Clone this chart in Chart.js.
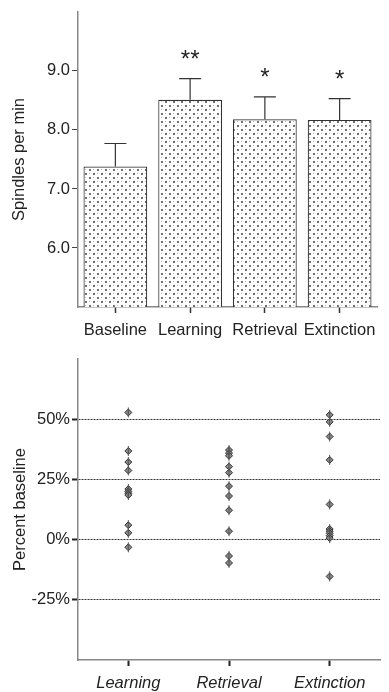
<!DOCTYPE html>
<html>
<head>
<meta charset="utf-8">
<script src="https://cdn.jsdelivr.net/npm/chart.js@4.4.1/dist/chart.umd.min.js"></script>
<style>
  body { margin: 0; background: #fff; }
  #top { position: absolute; left: 0; top: 0; }
  #bottom { position: absolute; left: 0; top: 345px; }
</style>
</head>
<body>
<canvas id="top" width="389" height="345"></canvas>
<canvas id="bottom" width="389" height="347"></canvas>
<script>
// top panel: mean spindle rate per session
const categories = ['Baseline', 'Learning', 'Retrieval', 'Extinction'];
const means = [7.38, 8.51, 8.18, 8.17];
const sem = [0.39, 0.36, 0.38, 0.36];
const stars = ['', '**', '*', '*'];
const topTicks = [6, 7, 8, 9];

// bottom panel: individual change from baseline (%)
const sessions = ['Learning', 'Retrieval', 'Extinction'];
const learningPct = [52.8, 36.8, 32.2, 28.7, 21.0, 20.0, 19.2, 18.5, 6.0, 2.8, -3.2];
const retrievalPct = [37.2, 35.9, 34.8, 30.3, 27.8, 22.2, 18.1, 12.2, 3.5, -6.8, -9.7];
const extinctionPct = [51.8, 48.9, 42.8, 33.1, 14.6, 4.4, 3.5, 2.6, 1.6, 0.6, -15.3];
const pctTicks = [-25, 0, 25, 50];

const FONT = 'Liberation Sans';
Chart.defaults.font.family = FONT;
Chart.defaults.font.size = 16.5;
Chart.defaults.color = '#222';

// stipple fill for the bars
function dotPattern() {
  const c = document.createElement('canvas');
  c.width = 8; c.height = 8;
  const g = c.getContext('2d');
  g.fillStyle = '#fff';
  g.fillRect(0, 0, 8, 8);
  g.fillStyle = '#707070';
  g.fillRect(1, 1, 2, 2);
  g.fillRect(5, 5, 2, 2);
  g.fillStyle = '#b8b8b8';
  g.fillRect(5, 1, 1, 1);
  g.fillRect(1, 5, 1, 1);
  return g.createPattern(c, 'repeat');
}

const errorBars = {
  id: 'errorBars',
  afterDatasetsDraw(chart) {
    const ctx = chart.ctx;
    const y = chart.scales.y;
    const meta = chart.getDatasetMeta(0);
    ctx.save();
    ctx.strokeStyle = '#333';
    ctx.lineWidth = 1.2;
    meta.data.forEach((bar, i) => {
      const top = y.getPixelForValue(means[i] + sem[i]);
      const base = y.getPixelForValue(means[i]);
      ctx.beginPath();
      ctx.moveTo(bar.x, base);
      ctx.lineTo(bar.x, top);
      ctx.moveTo(bar.x - 11, top);
      ctx.lineTo(bar.x + 11, top);
      ctx.stroke();
      if (stars[i]) {
        ctx.fillStyle = '#222';
        ctx.font = '24px ' + FONT;
        ctx.textAlign = 'center';
        ctx.textBaseline = 'alphabetic';
        ctx.fillText(stars[i], bar.x, top - 12);
      }
    });
    ctx.restore();
  }
};

new Chart(document.getElementById('top'), {
  type: 'bar',
  data: {
    labels: categories,
    datasets: [{
      data: means,
      backgroundColor: dotPattern(),
      borderColor: '#333',
      borderWidth: 1.2,
      borderSkipped: 'bottom',
      barPercentage: 1,
      categoryPercentage: 0.853
    }]
  },
  options: {
    responsive: false,
    animation: false,
    layout: { padding: { top: 9, right: 12, left: 0, bottom: 0 } },
    plugins: { legend: { display: false }, tooltip: { enabled: false } },
    scales: {
      x: {
        grid: { offset: false, drawOnChartArea: false, tickLength: 6, tickColor: '#333', tickWidth: 1.5 },
        border: { color: '#888', width: 1.5 },
        ticks: { padding: 8, color: '#222', maxRotation: 0, autoSkip: false },
        afterFit(s) { s.height = 38; }
      },
      y: {
        min: 5,
        max: 10,
        afterBuildTicks(s) { s.ticks = topTicks.map(v => ({ value: v })); },
        grid: { drawOnChartArea: false, tickLength: 6, tickColor: '#444', tickWidth: 1 },
        border: { color: '#888', width: 1.5 },
        ticks: { padding: 2, color: '#222', callback: v => v.toFixed(1) },
        title: { display: true, text: 'Spindles per min', color: '#222', font: { size: 16.5 }, padding: { top: 10, bottom: 0 } },
        afterFit(s) { s.width = 78; }
      }
    }
  },
  plugins: [errorBars]
});

function pts(values, name) {
  return values.map(v => ({ x: name, y: v }));
}
const allPoints = [].concat(
  pts(learningPct, 'Learning'),
  pts(retrievalPct, 'Retrieval'),
  pts(extinctionPct, 'Extinction')
);

new Chart(document.getElementById('bottom'), {
  type: 'line',
  data: {
    labels: sessions,
    datasets: [
      {
        data: allPoints,
        showLine: false,
        pointStyle: 'line',
        rotation: 90,
        pointRadius: 5,
        borderColor: '#555',
        pointBorderWidth: 1
      },
      {
        data: allPoints,
        showLine: false,
        pointStyle: 'rectRot',
        pointRadius: 3.5,
        backgroundColor: '#8a8a8a',
        borderColor: '#333',
        pointBorderWidth: 1
      }
    ]
  },
  options: {
    responsive: false,
    animation: false,
    layout: { padding: { top: 14, right: 9, left: 0, bottom: 0 } },
    plugins: { legend: { display: false }, tooltip: { enabled: false } },
    scales: {
      x: {
        offset: true,
        grid: { offset: false, drawOnChartArea: false, tickLength: 6, tickColor: '#222', tickWidth: 2 },
        border: { color: '#888', width: 1.5 },
        ticks: { padding: 8, color: '#222', font: { style: 'italic', size: 16.5 } },
        afterFit(s) { s.height = 32; }
      },
      y: {
        min: -50,
        max: 75,
        afterBuildTicks(s) { s.ticks = pctTicks.map(v => ({ value: v })); },
        grid: { color: '#333', lineWidth: 1, tickLength: 6, tickColor: '#222', tickWidth: 2, tickBorderDash: [] },
        border: { color: '#888', width: 1.5, dash: [2, 1] },
        ticks: { padding: 2, color: '#222', callback: v => v + '%' },
        title: { display: true, text: 'Percent baseline', color: '#222', font: { size: 16.5 }, padding: { top: 11, bottom: 0 } },
        afterFit(s) { s.width = 78; }
      }
    }
  }
});
</script>
</body>
</html>
